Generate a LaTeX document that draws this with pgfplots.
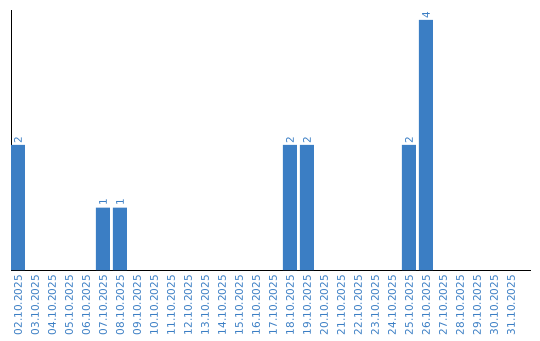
\documentclass[border=0pt]{standalone}
\usepackage{pgfplots}
\pgfplotsset{compat=1.18}
\usepackage{fontspec}
\setmainfont{DejaVu Sans}
\definecolor{barblue}{RGB}{59,126,196}
\begin{document}
\begin{tikzpicture}
\begin{axis}[
  scale only axis,
  width=520pt, height=260pt,
  xmin=-0.41, xmax=30.18,
  ymin=0, ymax=4.16,
  axis lines*=left,
  axis line style={black, line width=0.9pt, -},
  ytick=\empty,
  xtick={0,...,29},
  xticklabels={02.10.2025,03.10.2025,04.10.2025,05.10.2025,06.10.2025,07.10.2025,08.10.2025,09.10.2025,10.10.2025,11.10.2025,12.10.2025,13.10.2025,14.10.2025,15.10.2025,16.10.2025,17.10.2025,18.10.2025,19.10.2025,20.10.2025,21.10.2025,22.10.2025,23.10.2025,24.10.2025,25.10.2025,26.10.2025,27.10.2025,28.10.2025,29.10.2025,30.10.2025,31.10.2025},
  major tick length=0pt,
  xticklabel style={yshift=-3pt, rotate=90, anchor=east, font=\fontsize{10.5}{11}\selectfont, text=barblue, inner ysep=0pt, inner xsep=2pt},
  ybar, bar width=0.82,
  /pgf/number format/assume math mode=true,
  nodes near coords,
  nodes near coords style={rotate=90, anchor=west, font=\fontsize{10.5}{11}\selectfont, text=barblue, inner xsep=1.5pt, inner ysep=0pt},
  clip=false,
]
\addplot[fill=barblue, draw=none] coordinates {(0,2) (5,1) (6,1) (16,2) (17,2) (23,2) (24,4)};
\end{axis}
\pgfresetboundingbox
\path ([xshift=-11pt,yshift=-70pt]current axis.south west) rectangle ([xshift=9pt,yshift=10pt]current axis.north east);
\end{tikzpicture}
\end{document}
